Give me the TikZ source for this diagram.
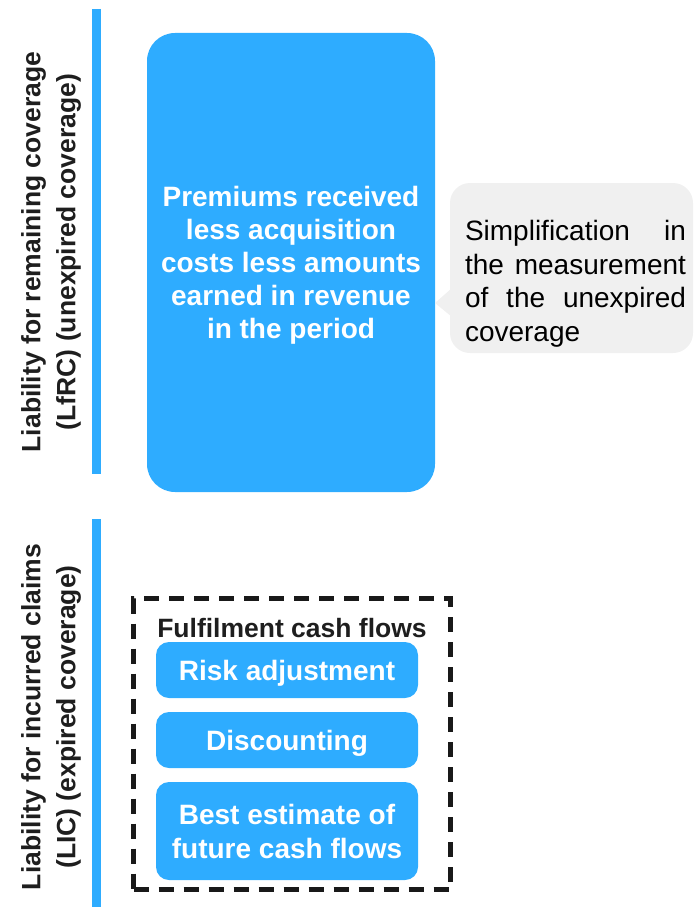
\documentclass[tikz,border=0pt]{standalone}
\usepackage{fontspec}
\setmainfont{Liberation Sans}
\definecolor{lrcblue}{RGB}{46,172,255}
\definecolor{notegrey}{RGB}{240,240,240}
\definecolor{labelgrey}{RGB}{30,30,30}

\begin{document}
\begin{tikzpicture}[x=1pt,y=-1pt]
      \tikzstyle{bigbox}=[fill=lrcblue,rounded corners=28pt,inner sep=0pt,text=white,align=center,text depth=0pt,
        font=\bfseries\fontsize{28}{33}\selectfont,minimum width=288pt,minimum height=459pt]
      \tikzstyle{fcfbox}=[fill=lrcblue,rounded corners=13pt,inner sep=0pt,text=white,align=center,text depth=0pt,
        font=\bfseries\fontsize{28}{34}\selectfont,minimum width=262pt]
      \tikzstyle{note}=[fill=notegrey,rounded corners=20pt,minimum width=243pt,minimum height=170pt]
      \tikzstyle{sidelabel}=[rotate=90,align=center,text=labelgrey,font=\bfseries\fontsize{26.5}{35}\selectfont]
      \tikzstyle{sidebar}=[draw=lrcblue,line width=8.5pt]
      \useasboundingbox (0,0) rectangle (693,907);
      % coverage periods
      \node[sidelabel] (lfrc) at (51,252) {Liability for remaining coverage\\(LfRC) (unexpired coverage)};
      \node[sidelabel] (lic) at (51,717) {Liability for incurred claims\\(LIC) (expired coverage)};
      \coordinate (lfrctop) at (96.5,9);
      \coordinate (lfrcbot) at (96.5,474);
      \coordinate (lictop) at (96.5,519);
      \coordinate (licbot) at (96.5,907);
      \draw[sidebar] (lfrctop) -- (lfrcbot);
      \draw[sidebar] (lictop) -- (licbot);
      % unexpired coverage
      \node[bigbox] (prem) at (291,262.5) {Premiums received\\less acquisition\\costs less amounts\\earned in revenue\\in the period};
      \node[note] (simp) at (571.5,268) {};
      \coordinate (tip) at (435,303);
      \fill[notegrey] (452,288) -- (tip) -- (452,317) -- cycle;
      \node[text width=221pt,align=justify,inner sep=0pt,font=\fontsize{28}{33.5}\selectfont]
        (simptext) at (575.5,284) {Simplification in the measurement of the unexpired coverage};
      % expired coverage
      \node[draw=black!90,line width=4.5pt,dash pattern=on 15pt off 10pt,minimum width=317pt,minimum height=291pt]
        (fcf) at (292,744) {};
      \node[font=\bfseries\fontsize{26.5}{32}\selectfont,text=labelgrey] (fcftitle) at (292,628) {Fulfilment cash flows};
      \node[fcfbox,minimum height=56pt] (risk) at (287,670) {Risk adjustment};
      \node[fcfbox,minimum height=56pt] (disc) at (287,740) {Discounting};
      \node[fcfbox,minimum height=98pt] (best) at (287,831) {Best estimate of\\future cash flows};
\end{tikzpicture}
\end{document}
